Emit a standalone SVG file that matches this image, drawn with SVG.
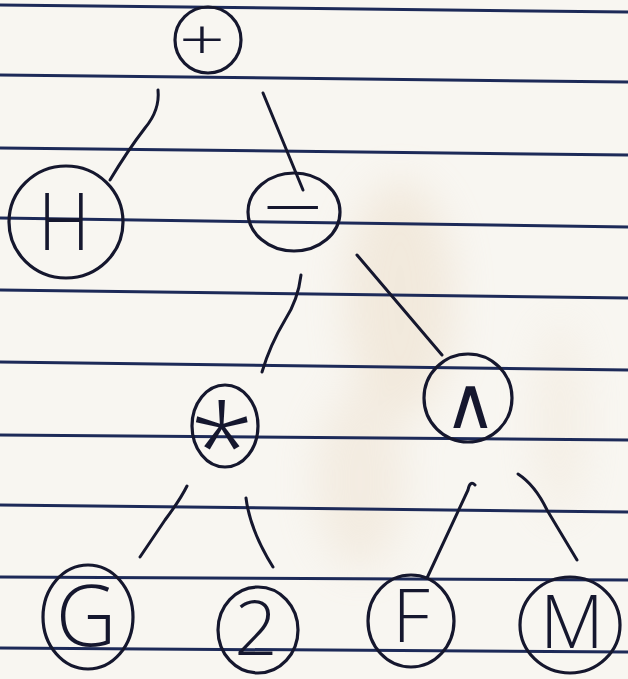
<svg xmlns="http://www.w3.org/2000/svg" width="628" height="679" viewBox="0 0 628 679">
<defs>
<filter id="blur" x="-50%" y="-50%" width="200%" height="200%"><feGaussianBlur stdDeviation="20"/></filter>
<style>
.rule{stroke:#1d2a58;stroke-width:3;fill:none}
.node{fill:none;stroke:#15172e;stroke-width:3.2}
.edge{fill:none;stroke:#15172e;stroke-width:3;stroke-linecap:round;stroke-linejoin:round}
.lbl{fill:#15172e;font-family:'Open Sans','Lato','Liberation Sans',sans-serif;font-weight:300;text-anchor:middle}
</style>
</defs>
<rect width="628" height="679" fill="#f8f6f1"/>
<g filter="url(#blur)" opacity="0.28">
<ellipse cx="400" cy="300" rx="55" ry="120" fill="#e2c9a8"/>
<ellipse cx="360" cy="480" rx="45" ry="90" fill="#e6d2b8"/>
<ellipse cx="560" cy="420" rx="25" ry="100" fill="#ebdcc6"/>
</g>
<g id="paper-lines">
<path class="rule" d="M0 5 L628 12"/>
<path class="rule" d="M0 75 L628 82"/>
<path class="rule" d="M0 148 L628 155"/>
<path class="rule" d="M0 218 L628 227"/>
<path class="rule" d="M0 290 L628 298"/>
<path class="rule" d="M0 362 L628 370"/>
<path class="rule" d="M0 435 L628 440"/>
<path class="rule" d="M0 505 L628 512"/>
<path class="rule" d="M0 577 L628 580"/>
<path class="rule" d="M0 648 L628 652"/>
</g>
<g id="connectors">
<path class="edge" d="M158 90 Q160 110 145 128 Q128 150 110 180"/>
<path class="edge" d="M263 93 L303 190"/>
<path class="edge" d="M301 275 Q298 300 285 320 Q270 345 262 372"/>
<path class="edge" d="M357 255 L442 355"/>
<path class="edge" d="M187 486 Q180 500 165 520 L140 557"/>
<path class="edge" d="M246 498 Q250 530 273 567"/>
<path class="edge" d="M475 485 Q470 480 468 490 L427 578"/>
<path class="edge" d="M518 474 Q535 485 547 510 L577 560"/>
</g>
<g id="n-plus">
<ellipse class="node" cx="208" cy="40" rx="33" ry="33"/>
<text class="lbl" x="202" y="60" font-size="57" textLength="46" lengthAdjust="spacingAndGlyphs">+</text>
</g>
<g id="n-H">
<ellipse class="node" cx="66" cy="222" rx="57" ry="56"/>
<text class="lbl" x="64" y="250" font-size="80" textLength="52" lengthAdjust="spacingAndGlyphs">H</text>
</g>
<g id="n-minus">
<ellipse class="node" cx="294" cy="212" rx="46" ry="39"/>
<text class="lbl" x="293" y="232" font-size="70" textLength="62" lengthAdjust="spacingAndGlyphs">−</text>
</g>
<g id="n-mul">
<ellipse class="node" cx="225" cy="426" rx="33" ry="41"/>
<text class="lbl" x="222" y="490" font-size="118">*</text>
</g>
<g id="n-pow">
<ellipse class="node" cx="468" cy="398" rx="44" ry="44"/>
<text class="lbl" x="470" y="428" font-size="72">∧</text>
</g>
<g id="n-G">
<ellipse class="node" cx="88" cy="617" rx="45" ry="52"/>
<text class="lbl" x="86" y="646" font-size="84">G</text>
</g>
<g id="n-2">
<ellipse class="node" cx="258" cy="630" rx="40" ry="43"/>
<text class="lbl" x="256" y="655" font-size="76">2</text>
</g>
<g id="n-F">
<ellipse class="node" cx="411" cy="621" rx="43" ry="46"/>
<text class="lbl" x="411" y="642" font-size="74">F</text>
</g>
<g id="n-M">
<ellipse class="node" cx="570" cy="625" rx="50" ry="48"/>
<text class="lbl" x="572" y="648" font-size="74">M</text>
</g>
</svg>
